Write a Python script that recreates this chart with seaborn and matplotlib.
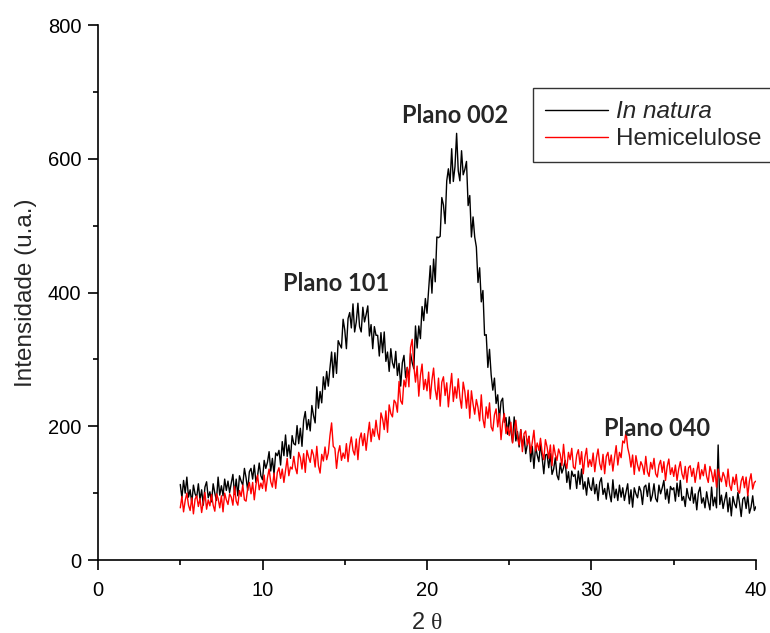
import numpy as np
import pandas as pd
import matplotlib
matplotlib.use("Agg")
import matplotlib.pyplot as plt
from matplotlib.ticker import MultipleLocator
import seaborn as sns

# Diffraction angle grid: 5.0 to 40.0 degrees, 0.1 degree step
two_theta = np.round(np.arange(5.0, 40.0001, 0.1), 1)

# Intensity (u.a.) of the untreated sample, one row per degree of 2-theta
in_natura = [
    113, 93, 119, 100, 124, 94, 105, 85, 112, 99,        # 5
    94, 114, 90, 105, 82, 109, 117, 93, 102, 87,         # 6
    114, 100, 89, 124, 97, 111, 96, 121, 104, 118,       # 7
    101, 115, 128, 98, 121, 96, 126, 118, 112, 137,      # 8
    123, 104, 132, 137, 121, 142, 116, 126, 145, 126,    # 9
    120, 149, 137, 146, 162, 133, 152, 128, 160, 156,    # 10
    164, 142, 177, 156, 187, 155, 172, 152, 186, 174,    # 11
    172, 201, 174, 197, 170, 209, 222, 195, 210, 193,    # 12
    231, 216, 205, 259, 227, 252, 235, 274, 255, 282,    # 13
    260, 287, 311, 273, 310, 279, 328, 322, 317, 360,    # 14
    344, 316, 361, 370, 347, 383, 341, 356, 384, 349,    # 15
    341, 378, 356, 367, 380, 335, 352, 316, 349, 336,    # 16
    336, 305, 340, 310, 341, 297, 311, 282, 316, 295,    # 17
    287, 312, 276, 294, 260, 295, 306, 273, 288, 270,    # 18
    309, 295, 286, 350, 317, 350, 331, 379, 358, 391,    # 19
    369, 405, 440, 399, 450, 416, 483, 482, 484, 542,    # 20
    531, 503, 567, 585, 563, 615, 566, 588, 638, 582,    # 21
    567, 612, 576, 584, 596, 530, 545, 483, 513, 483,    # 22
    468, 415, 437, 386, 403, 336, 337, 288, 315, 277,    # 23
    254, 272, 234, 247, 209, 237, 242, 206, 213, 188,    # 24
    214, 193, 176, 214, 178, 192, 169, 195, 170, 185,    # 25
    159, 173, 185, 147, 170, 137, 170, 157, 147, 174,    # 26
    153, 129, 157, 158, 138, 159, 128, 136, 153, 127,    # 27
    120, 145, 130, 138, 149, 116, 132, 106, 133, 125,    # 28
    128, 107, 133, 113, 136, 106, 117, 97, 123, 109,     # 29
    104, 123, 99, 113, 89, 116, 123, 98, 107, 91,        # 30
    115, 99, 87, 120, 93, 106, 89, 112, 94, 108,         # 31
    89, 102, 114, 84, 105, 79, 108, 99, 93, 110,         # 32
    103, 83, 109, 112, 95, 115, 88, 97, 114, 92,         # 33
    87, 112, 99, 108, 119, 91, 106, 85, 110, 105,        # 34
    108, 88, 115, 95, 119, 89, 95, 80, 107, 94,          # 35
    89, 109, 85, 99, 75, 101, 109, 85, 93, 78,           # 36
    102, 87, 75, 109, 81, 94, 78, 172, 83, 97,           # 37
    77, 90, 101, 72, 93, 66, 95, 84, 78, 101,            # 38
    85, 65, 91, 94, 77, 97, 70, 79, 96, 74,              # 39
    80,                                                  # 40
]

# Intensity (u.a.) of the hemicellulose fraction
hemicelulose = [
    78, 95, 72, 89, 100, 82, 74, 93, 69, 91,             # 5
    96, 80, 92, 71, 87, 101, 76, 90, 81, 98,             # 6
    82, 73, 99, 92, 78, 96, 72, 100, 90, 83,             # 7
    99, 94, 82, 110, 88, 82, 104, 95, 112, 90,           # 8
    88, 107, 116, 99, 116, 90, 112, 127, 105, 115,       # 9
    107, 127, 103, 123, 136, 117, 109, 130, 107, 131,    # 10
    138, 122, 136, 116, 134, 152, 126, 139, 136, 155,    # 11
    138, 129, 161, 153, 136, 159, 131, 164, 154, 146,    # 12
    165, 157, 139, 170, 141, 130, 158, 148, 169, 150,    # 13
    160, 186, 205, 170, 167, 137, 160, 171, 149, 160,    # 14
    152, 174, 147, 170, 184, 164, 157, 181, 150, 181,    # 15
    190, 171, 189, 164, 187, 206, 177, 196, 185, 209,    # 16
    190, 180, 220, 211, 195, 223, 191, 232, 219, 214,    # 17
    239, 235, 221, 267, 238, 233, 269, 259, 288, 259,    # 18
    318, 330, 290, 266, 290, 245, 276, 293, 255, 270,    # 19
    253, 281, 241, 269, 287, 255, 240, 272, 230, 266,    # 20
    274, 246, 265, 229, 256, 279, 237, 259, 242, 271,    # 21
    243, 227, 266, 252, 227, 254, 212, 253, 233, 218,    # 22
    240, 228, 208, 247, 211, 198, 229, 212, 235, 199,    # 23
    193, 217, 226, 199, 219, 180, 206, 219, 189, 199,    # 24
    186, 206, 175, 195, 209, 184, 172, 195, 162, 189,    # 25
    193, 172, 185, 160, 176, 194, 163, 175, 164, 182,    # 26
    161, 150, 180, 169, 152, 172, 141, 172, 158, 149,    # 27
    166, 158, 141, 173, 146, 137, 161, 150, 167, 139,    # 28
    136, 157, 165, 143, 162, 129, 154, 167, 139, 150,    # 29
    140, 160, 132, 153, 166, 144, 135, 158, 129, 155,    # 30
    161, 142, 157, 133, 153, 171, 142, 161, 153, 178,    # 31
    175, 192, 168, 157, 139, 157, 128, 156, 142, 133,    # 32
    147, 141, 128, 155, 132, 125, 146, 136, 152, 129,    # 33
    124, 142, 149, 131, 147, 119, 140, 151, 128, 138,    # 34
    125, 142, 119, 136, 147, 129, 121, 140, 116, 138,    # 35
    141, 125, 137, 116, 132, 146, 121, 135, 126, 143,    # 36
    125, 116, 140, 131, 117, 135, 109, 136, 124, 117,    # 37
    131, 124, 110, 136, 112, 104, 124, 113, 128, 104,    # 38
    100, 118, 125, 108, 124, 96, 118, 129, 106, 116,     # 39
    118,                                                 # 40
]

series_names = ["In natura", "Hemicelulose"]
series_colors = ["#000000", "#ff0000"]

# Crystallographic plane labels: (text, 2-theta, intensity)
plane_labels = ["Plano 101", "Plano 002", "Plano 040"]
plane_x = [14.5, 21.7, 34.0]
plane_y = [413, 664, 196]

df = pd.concat([
    pd.DataFrame({"2theta": two_theta, "I": in_natura, "amostra": series_names[0]}),
    pd.DataFrame({"2theta": two_theta, "I": hemicelulose, "amostra": series_names[1]}),
], ignore_index=True)

sns.set_style("ticks")
plt.rcParams["font.family"] = ["Liberation Sans", "DejaVu Sans"]
plt.rcParams["mathtext.fontset"] = "custom"
plt.rcParams["mathtext.rm"] = "Liberation Serif"

fig = plt.figure(figsize=(7.7, 6.33), dpi=100)
ax = fig.add_axes([0.1273, 0.1153, 0.8545, 0.8452])

sns.lineplot(data=df, x="2theta", y="I", hue="amostra",
             palette=dict(zip(series_names, series_colors)),
             linewidth=1.0, ax=ax, legend=False, estimator=None, sort=False)

ax.set_xlim(0, 40)
ax.set_ylim(0, 800)
ax.xaxis.set_major_locator(MultipleLocator(10))
ax.xaxis.set_minor_locator(MultipleLocator(5))
ax.yaxis.set_major_locator(MultipleLocator(200))
ax.yaxis.set_minor_locator(MultipleLocator(100))

for side in ("top", "right"):
    ax.spines[side].set_visible(False)
for side in ("left", "bottom"):
    ax.spines[side].set_color("black")
    ax.spines[side].set_linewidth(1.2)

ax.tick_params(which="major", direction="out", length=7, width=1.2,
               labelsize=14.5, colors="black", pad=5)
ax.tick_params(axis="x", which="major", pad=8)
ax.tick_params(which="minor", direction="out", length=3.5, width=1.2,
               colors="black")

ax.set_xlabel(r"2 $\mathrm{\theta}$", fontsize=17, labelpad=9)
ax.set_ylabel("Intensidade (u.a.)", fontsize=17.5, labelpad=8)

for txt, px, py in zip(plane_labels, plane_x, plane_y):
    ax.text(px, py, txt, ha="center", va="center", fontsize=17,
            fontweight="bold", family=["Lato", "DejaVu Sans"])

# Legend with plain rectangular frame, running past the right figure edge
handles = [plt.Line2D([], [], color=c, lw=1.0) for c in series_colors]
leg = fig.legend(handles, series_names, loc="upper left",
                 bbox_to_anchor=(533 / 770, 1 - 88 / 633),
                 fontsize=17.5, frameon=True, fancybox=False,
                 handlelength=2.6, handletextpad=0.3, borderpad=0.5,
                 labelspacing=0.2, borderaxespad=0)
leg.get_frame().set_edgecolor("black")
leg.get_frame().set_linewidth(1.0)
leg.get_texts()[0].set_fontstyle("italic")

fig.savefig("out.png", dpi=100, facecolor="white")
